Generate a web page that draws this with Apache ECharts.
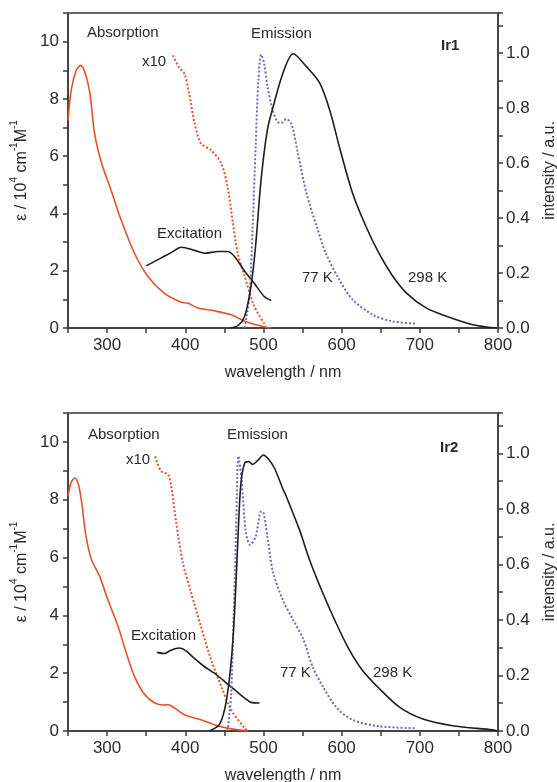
<!DOCTYPE html>
<html>
<head>
<meta charset="utf-8">
<script src="https://cdn.jsdelivr.net/npm/echarts@6/dist/echarts.min.js"></script>
<style>
html,body{margin:0;padding:0;background:#fff;}
#c{width:557px;height:782px;}
</style>
</head>
<body>
<div id="c"></div>
<script>
// ---- Data (wavelength nm, value) ----
var ir1Abs = [[250,7.25],[254,8.3],[260.6,9.0],[266,9.17],[272,8.9],[278,8.19],[284,6.8],[293,5.75],[305,4.82],[318,3.77],[335,2.61],[352,1.81],[373,1.22],[395,0.9],[403,0.87],[416,0.7],[437,0.6],[459,0.46],[476,0.24],[497,0.07],[510,0]];
var ir1X10 = [[384,9.52],[392,9.1],[399,8.88],[405,8.19],[412,7.14],[420,6.45],[433,6.21],[446,5.75],[454,4.94],[461,3.66],[467,2.61],[476,1.81],[488,0.77],[503,0.07]];
var ir1Exc = [[350,2.17],[369,2.44],[383,2.65],[395,2.82],[412,2.71],[425,2.61],[442,2.67],[454,2.67],[463,2.5],[476,1.98],[488,1.57],[501,1.1],[510,0.96]];
var ir1Em298 = [[458,0],[468,0.01],[476,0.043],[484,0.15],[490,0.30],[497,0.54],[505,0.72],[512,0.8],[525,0.927],[538,0.997],[555,0.95],[572,0.89],[585,0.79],[597,0.66],[614,0.49],[631,0.37],[648,0.27],[665,0.19],[683,0.127],[708,0.073],[734,0.043],[768,0.012],[797,0]];
var ir1Em77 = [[476,0],[482,0.115],[486,0.357],[490,0.66],[493.5,0.90],[497,0.994],[501,0.96],[505,0.88],[512,0.79],[518,0.75],[523,0.745],[529,0.76],[536,0.74],[544,0.636],[555,0.49],[568,0.37],[580,0.27],[597,0.176],[614,0.103],[640,0.048],[665,0.024],[695,0.016]];

var ir2Abs = [[250,8.12],[254,8.6],[258.5,8.75],[263,8.55],[267,8.0],[273,6.74],[280,5.93],[290.5,5.35],[301,4.54],[314,3.62],[324.5,2.70],[335,1.89],[348,1.26],[361,0.97],[372,0.9],[378,0.91],[386,0.80],[399,0.56],[420,0.39],[437,0.22],[454,0.10],[471,0.03],[480,0]];
var ir2X10 = [[361.5,9.5],[369,8.99],[378,8.87],[382,8.47],[388.5,7.2],[397,5.81],[407.5,4.78],[420,3.62],[433,2.47],[446,1.55],[458.5,0.74],[476,0.1],[480,0]];
var ir2Exc = [[364,2.72],[373,2.68],[381.5,2.79],[392,2.87],[400,2.79],[411,2.53],[424,2.24],[437,2.0],[450,1.72],[463,1.43],[476,1.14],[484,0.99],[495,0.97]];
var ir2Em298 = [[431,0],[444,0.025],[452,0.10],[458.5,0.243],[463,0.424],[467,0.67],[471,0.887],[476,0.965],[481,0.97],[486,0.96],[493,0.975],[500,0.994],[506,0.98],[514,0.947],[524.5,0.874],[529,0.846],[546,0.725],[559,0.616],[576,0.496],[593,0.388],[610,0.291],[627,0.217],[648.5,0.152],[674,0.086],[704,0.043],[742,0.019],[793,0.004],[800,0]];
var ir2Em77 = [[454,0],[458.5,0.123],[462,0.424],[465,0.725],[468,0.99],[472,0.907],[477.5,0.714],[483,0.67],[490,0.7],[497,0.79],[499,0.79],[505,0.70],[512,0.575],[525,0.47],[538,0.40],[551,0.33],[563,0.23],[576,0.16],[593,0.086],[614,0.04],[648,0.017],[695,0.01]];

var xTitle = 'wavelength / nm';
var rightTitle = 'intensity / a.u.';

// ---- Styling ----
var FONT = 'Liberation Sans, Arial, sans-serif';
var AX = '#3a3a3a';
var RED = '#e2532d';
var BLK = '#1e1e1e';
var BLUE = '#6c6cb4';

function xAxis(grid){
  return {
    type:'value', gridIndex:grid, min:250, max:800, interval:50,
    name:xTitle, nameLocation:'middle', nameGap:37,
    nameTextStyle:{fontFamily:FONT,fontSize:16,color:'#2a2a2a'},
    axisLine:{lineStyle:{color:AX,width:1.5}},
    axisTick:{inside:false,length:5,lineStyle:{color:AX,width:1.5}},
    axisLabel:{fontFamily:FONT,fontSize:17,color:'#2a2a2a',margin:9,
      formatter:function(v){return (Math.round(v)%100===0 && v>250)?String(Math.round(v)):'';}},
    splitLine:{show:false}
  };
}
function leftAxis(grid){
  return {
    type:'value', gridIndex:grid, position:'left', min:0, max:11, interval:1,
    name:'{a|ε / 10}{s|4}{a| cm}{s|-1}{a|M}{s|-1}', nameLocation:'middle', nameGap:35,
    nameTextStyle:{fontFamily:FONT,color:'#2a2a2a',
      rich:{a:{fontFamily:FONT,fontSize:16,color:'#2a2a2a',lineHeight:20,verticalAlign:'bottom'},
            s:{fontFamily:FONT,fontSize:10,color:'#2a2a2a',lineHeight:20,verticalAlign:'top'}}},
    axisLine:{show:true,lineStyle:{color:AX,width:1.5}},
    axisTick:{inside:false,length:5,lineStyle:{color:AX,width:1.5}},
    axisLabel:{fontFamily:FONT,fontSize:17,color:'#2a2a2a',margin:9,
      formatter:function(v){var r=Math.round(v);return (r%2===0 && r<=10)?String(r):'';}},
    splitLine:{show:false}
  };
}
function rightAxis(grid){
  return {
    type:'value', gridIndex:grid, position:'right', min:0, max:1.145, interval:0.1,
    name:rightTitle, nameLocation:'middle', nameGap:44,
    nameTextStyle:{fontFamily:FONT,fontSize:16,color:'#2a2a2a'},
    axisLine:{show:true,lineStyle:{color:AX,width:1.5}},
    axisTick:{inside:false,length:5,lineStyle:{color:AX,width:1.5}},
    axisLabel:{fontFamily:FONT,fontSize:17,color:'#2a2a2a',margin:8,
      formatter:function(v){var r=Math.round(v*10);return (r%2===0 && r<=10)?(r/10).toFixed(1):'';}},
    splitLine:{show:false}
  };
}
function line(data,xi,yi,color,type,width){
  return {type:'line',xAxisIndex:xi,yAxisIndex:yi,data:data,showSymbol:false,symbol:'none',
    smooth:0.3,silent:true,
    lineStyle:{color:color,width:width,type:type}};
}

var chart = echarts.init(document.getElementById('c'),null,{renderer:'canvas'});
var labelStyle = {font:'15px '+FONT, fill:'#2a2a2a', verticalAlign:'middle', align:'left'};
function txt(t,x,y,bold){
  return {type:'text',x:x,y:y,z:100,style:Object.assign({},labelStyle,{text:t,font:(bold?'bold ':'')+'15px '+FONT})};
}
chart.setOption({
  animation:false,
  backgroundColor:'#ffffff',
  grid:[
    {left:68,top:13,width:430,height:315,containLabel:false,outerBoundsMode:'none',show:true,borderColor:AX,borderWidth:1.5,backgroundColor:'transparent'},
    {left:68,top:413,width:430,height:318,containLabel:false,outerBoundsMode:'none',show:true,borderColor:AX,borderWidth:1.5,backgroundColor:'transparent'}
  ],
  xAxis:[xAxis(0),xAxis(1)],
  yAxis:[leftAxis(0),rightAxis(0),leftAxis(1),rightAxis(1)],
  series:[
    line(ir1Abs,0,0,RED,'solid',1.6),
    line(ir1X10,0,0,RED,'dotted',2),
    line(ir1Exc,0,0,BLK,'solid',1.6),
    line(ir1Em77,0,1,BLUE,'dotted',2),
    line(ir1Em298,0,1,BLK,'solid',1.6),
    line(ir2Abs,1,2,RED,'solid',1.6),
    line(ir2X10,1,2,RED,'dotted',2),
    line(ir2Exc,1,2,BLK,'solid',1.6),
    line(ir2Em77,1,3,BLUE,'dotted',2),
    line(ir2Em298,1,3,BLK,'solid',1.6)
  ],
  graphic:[
    txt('Absorption',87,33), txt('x10',142,62), txt('Emission',251,34), txt('Ir1',441,46,true),
    txt('Excitation',157,234), txt('77 K',302,278), txt('298 K',408,278),
    txt('Absorption',88,435), txt('x10',126,460), txt('Emission',227,435), txt('Ir2',440,448,true),
    txt('Excitation',131,636), txt('77 K',280,673), txt('298 K',373,673)
  ]
});
</script>
</body>
</html>
